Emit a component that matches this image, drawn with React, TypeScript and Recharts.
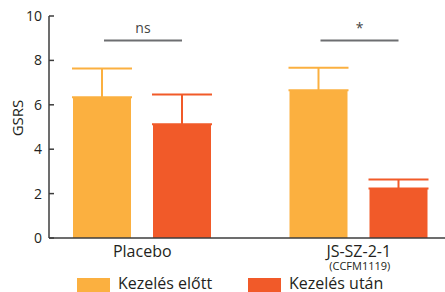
import { BarChart, Bar, XAxis, YAxis, ErrorBar, LabelList, Legend, Label } from 'recharts';

const groups = ['Placebo', 'JS-SZ-2-1'];
const groupSub = ['', '(CCFM1119)'];
const seriesNames = ['Kezelés előtt', 'Kezelés után'];
const before = [6.34, 6.65];
const after = [5.12, 2.23];
const beforeErr = [1.29, 1.02];
const afterErr = [1.34, 0.41];
const sigMarks = ['ns', '*'];
const sigLevel = 8.9;
const yTicks = [0, 2, 4, 6, 8, 10];

const COLORS = ['#FBB040', '#F15A29'];
const INK = '#231f20';
const AXIS = '#3c3c3c';
const FONT = '"Open Sans", sans-serif';
const BAR_SIZE = 58;
const BAR_GAP = 22;

const data = groups.map((g, i) => ({
  name: g,
  before: before[i],
  after: after[i],
  beforeErr: [0, beforeErr[i]],
  afterErr: [0, afterErr[i]],
}));

// significance bracket, drawn from the second bar of each group
const SigMark = (props: any) => {
  const { x, y, width, height, value, index } = props;
  const base = Number(y) + Number(height);
  const unit = Number(height) / Number(value);
  const ly = base - sigLevel * unit;
  const c2 = Number(x) + Number(width) / 2;
  const c1 = c2 - (BAR_SIZE + BAR_GAP);
  return (
    <g>
      <line x1={c1 + 2} x2={c2} y1={ly} y2={ly} stroke="#6d6e71" strokeWidth={2} />
      <text x={(c1 + c2) / 2 + 1} y={ly - 7} textAnchor="middle" fontSize={14} fontFamily={FONT} fill="#444">
        {sigMarks[index]}
      </text>
    </g>
  );
};

const GroupTick = ({ x, y, payload }: any) => {
  const i = groups.indexOf(payload.value);
  return (
    <g>
      <text x={x} y={y + 11} textAnchor="middle" fontSize={16} fontFamily={FONT} fill={INK}>{payload.value}</text>
      {groupSub[i] && (
        <text x={x + 1} y={y + 24} textAnchor="middle" fontSize={11} fontFamily={FONT} fill={INK}>{groupSub[i]}</text>
      )}
    </g>
  );
};

const renderLegend = () => (
  <div style={{ position: 'relative', width: 445, height: 18, fontFamily: FONT }}>
    {seriesNames.map((n, i) => (
      <div key={n} style={{ position: 'absolute', left: i === 0 ? 77 : 248, top: 0 }}>
        <div style={{ position: 'absolute', left: 0, top: 4, width: 33, height: 16, background: COLORS[i] }} />
        <div style={{ position: 'absolute', left: 41, top: 1, fontSize: 16, lineHeight: '16px', color: INK, whiteSpace: 'nowrap' }}>{n}</div>
      </div>
    ))}
  </div>
);

export default function App() {
  return (
    <div style={{ position: 'absolute', left: 0, top: 0, width: 445, height: 292, background: '#fff', overflow: 'hidden' }}>
      <BarChart width={445} height={292} data={data} margin={{ top: 16, right: 0, left: 0, bottom: 0 }}
        barSize={BAR_SIZE} barGap={BAR_GAP}>
        <XAxis dataKey="name" height={36} padding={{ left: -15, right: -22 }} tickLine={false}
          axisLine={{ stroke: AXIS, strokeWidth: 1.5 }} tick={<GroupTick />} interval={0} />
        <YAxis width={49} domain={[0, 10]} ticks={yTicks} tickSize={-5} tickMargin={12}
          axisLine={{ stroke: AXIS, strokeWidth: 1.5 }} tickLine={{ stroke: AXIS, strokeWidth: 1.5 }}
          tick={{ fontSize: 14, fill: INK, fontFamily: FONT }} interval={0}>
          <Label content={({ viewBox }: any) => {
            const lx = viewBox.x + 23;
            const ly = viewBox.y + viewBox.height / 2 - 9;
            return (
              <text x={lx} y={ly} transform={`rotate(-90 ${lx} ${ly})`}
                textAnchor="middle" fontSize={15} fontFamily={FONT} fill={INK}>GSRS</text>
            );
          }} />
        </YAxis>
        <Legend verticalAlign="bottom" height={18} content={renderLegend}
          wrapperStyle={{ position: 'absolute', left: 0, top: 274, width: 445, height: 18 }} />
        <Bar dataKey="before" name={seriesNames[0]} fill={COLORS[0]} isAnimationActive={false}>
          <ErrorBar dataKey="beforeErr" width={30} strokeWidth={2} stroke={COLORS[0]} direction="y" />
        </Bar>
        <Bar dataKey="after" name={seriesNames[1]} fill={COLORS[1]} isAnimationActive={false}>
          <ErrorBar dataKey="afterErr" width={30} strokeWidth={2} stroke={COLORS[1]} direction="y" />
          <LabelList dataKey="after" content={<SigMark />} />
        </Bar>
      </BarChart>
    </div>
  );
}
